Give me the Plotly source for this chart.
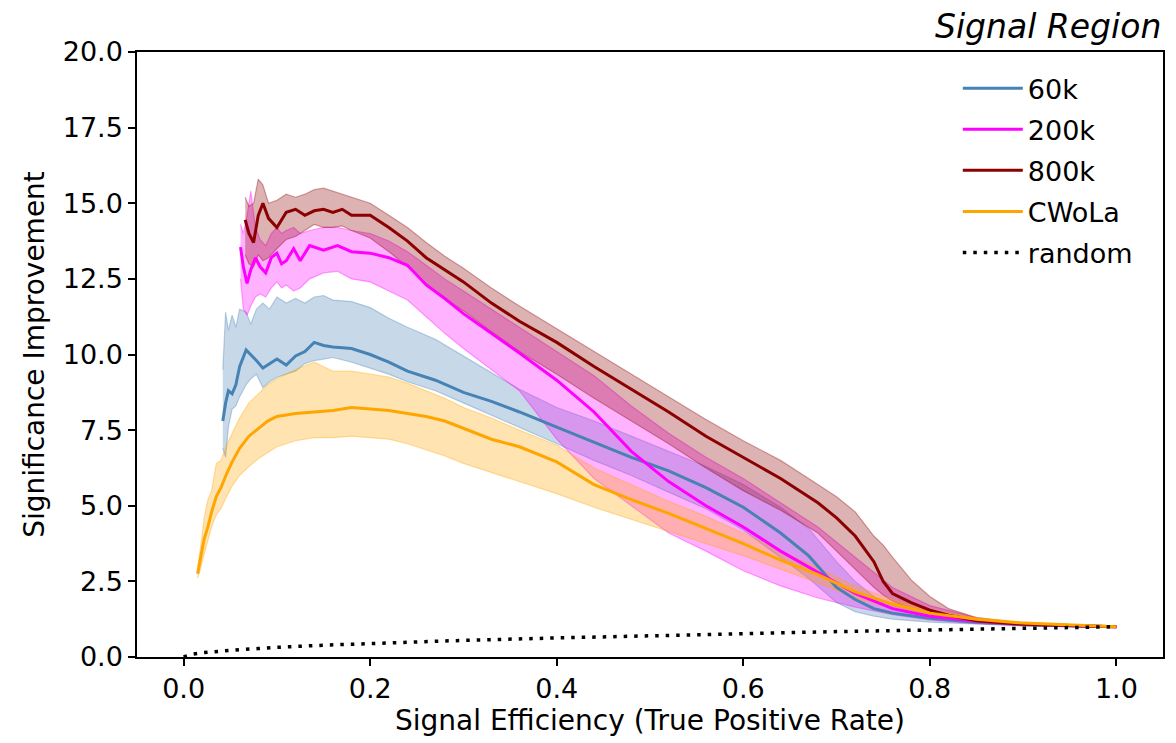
import plotly.graph_objects as go

# ---------------- data ----------------
S60_x = [0.042, 0.045, 0.048, 0.052, 0.056, 0.060, 0.067, 0.072, 0.078, 0.085, 0.092, 0.10, 0.11, 0.12, 0.13, 0.14, 0.15, 0.16, 0.18, 0.20, 0.22, 0.24, 0.27, 0.30, 0.33, 0.36, 0.40, 0.44, 0.48, 0.52, 0.56, 0.60, 0.64, 0.67, 0.70, 0.72, 0.74, 0.76, 0.80, 0.85, 0.90, 0.95, 1.0]
S60_y = [7.8, 8.4, 8.8, 8.7, 9.0, 9.6, 10.15, 10.0, 9.8, 9.55, 9.7, 9.85, 9.65, 9.95, 10.1, 10.4, 10.3, 10.25, 10.2, 10.0, 9.75, 9.45, 9.15, 8.75, 8.45, 8.1, 7.6, 7.1, 6.6, 6.15, 5.6, 4.95, 4.1, 3.35, 2.3, 1.9, 1.6, 1.45, 1.28, 1.15, 1.07, 1.03, 1.0]
S60_hi = [9.5, 11.4, 10.8, 11.3, 10.9, 11.5, 11.4, 11.0, 11.5, 11.7, 11.5, 11.9, 11.7, 11.85, 11.7, 11.9, 11.95, 11.8, 11.75, 11.55, 11.2, 10.9, 10.5, 9.95, 9.4, 8.85, 8.25, 7.8, 7.3, 6.8, 6.3, 5.7, 4.95, 4.25, 3.15, 2.5, 2.0, 1.7, 1.4, 1.2, 1.1, 1.04, 1.02]
S60_lo = [6.9, 6.6, 7.6, 8.2, 8.3, 8.6, 9.0, 9.2, 9.35, 8.9, 9.1, 9.25, 9.35, 9.45, 9.7, 9.8, 9.85, 9.9, 9.75, 9.55, 9.35, 9.1, 8.8, 8.4, 8.0, 7.6, 7.05, 6.5, 6.0, 5.45, 4.9, 4.2, 3.3, 2.6, 1.8, 1.5, 1.35, 1.25, 1.15, 1.08, 1.03, 1.0, 0.98]

S200_x = [0.061, 0.064, 0.068, 0.072, 0.077, 0.082, 0.088, 0.094, 0.10, 0.105, 0.11, 0.118, 0.125, 0.135, 0.15, 0.165, 0.18, 0.20, 0.22, 0.24, 0.26, 0.28, 0.30, 0.33, 0.36, 0.40, 0.44, 0.48, 0.52, 0.56, 0.60, 0.64, 0.68, 0.72, 0.76, 0.80, 0.85, 0.90, 0.95, 1.0]
S200_y = [13.55, 12.9, 12.35, 12.8, 13.2, 12.9, 12.7, 13.2, 13.35, 13.0, 13.1, 13.5, 13.1, 13.6, 13.45, 13.6, 13.4, 13.35, 13.2, 12.95, 12.3, 11.85, 11.35, 10.7, 10.05, 9.15, 8.1, 6.8, 5.8, 5.0, 4.3, 3.5, 2.8, 2.1, 1.6, 1.35, 1.18, 1.08, 1.03, 1.0]
S200_hi = [14.3, 14.0, 14.6, 15.4, 14.2, 13.8, 13.6, 14.0, 14.2, 14.0, 14.1, 14.2, 14.0, 14.1, 14.2, 14.2, 14.1, 14.0, 13.75, 13.4, 12.95, 12.5, 12.1, 11.5, 10.9, 10.1, 9.3, 8.3, 7.4, 6.6, 5.9, 5.1, 4.3, 3.3, 2.3, 1.7, 1.3, 1.12, 1.05, 1.02]
S200_lo = [12.5, 11.5, 11.3, 11.6, 11.9, 12.0, 11.9, 12.2, 12.4, 12.2, 12.3, 12.1, 12.2, 12.5, 12.7, 12.75, 12.5, 12.4, 12.1, 11.8, 11.25, 10.7, 10.2, 9.5, 8.8, 7.2, 5.9, 5.0, 4.1, 3.5, 2.85, 2.35, 1.95, 1.65, 1.4, 1.22, 1.1, 1.04, 1.01, 0.98]

S800_x = [0.066, 0.070, 0.075, 0.080, 0.085, 0.091, 0.10, 0.11, 0.12, 0.13, 0.14, 0.15, 0.16, 0.17, 0.18, 0.20, 0.22, 0.24, 0.26, 0.28, 0.30, 0.33, 0.36, 0.40, 0.44, 0.48, 0.52, 0.56, 0.60, 0.64, 0.68, 0.70, 0.72, 0.74, 0.75, 0.76, 0.78, 0.80, 0.82, 0.85, 0.90, 0.95, 1.0]
S800_y = [14.45, 14.0, 13.7, 14.6, 15.0, 14.5, 14.2, 14.7, 14.8, 14.6, 14.75, 14.8, 14.7, 14.8, 14.6, 14.6, 14.2, 13.75, 13.2, 12.8, 12.4, 11.7, 11.1, 10.4, 9.6, 8.85, 8.1, 7.3, 6.6, 5.9, 5.1, 4.6, 4.0, 3.15, 2.5, 2.1, 1.8, 1.55, 1.38, 1.2, 1.08, 1.03, 1.0]
S800_hi = [15.2, 14.9, 15.0, 15.8, 15.6, 15.0, 15.1, 15.3, 15.2, 15.3, 15.45, 15.5, 15.4, 15.3, 15.2, 15.0, 14.6, 14.2, 13.7, 13.25, 12.85, 12.2, 11.6, 10.85, 10.1, 9.35, 8.6, 7.85, 7.15, 6.5, 5.7, 5.3, 4.8, 4.0, 3.7, 3.3, 2.55, 2.0, 1.6, 1.3, 1.12, 1.05, 1.02]
S800_lo = [13.3, 13.0, 12.9, 13.3, 13.1, 13.2, 13.5, 13.8, 13.9, 14.1, 14.3, 14.2, 14.2, 14.25, 14.1, 13.85, 13.4, 12.9, 12.35, 11.85, 11.45, 10.75, 10.1, 9.35, 8.55, 7.8, 7.05, 6.25, 5.5, 4.85, 4.1, 3.5, 2.9, 2.3, 2.05, 1.85, 1.6, 1.42, 1.3, 1.15, 1.05, 1.02, 0.98]

CW_x = [0.015, 0.018, 0.022, 0.026, 0.030, 0.035, 0.040, 0.046, 0.052, 0.060, 0.070, 0.080, 0.090, 0.10, 0.12, 0.14, 0.16, 0.18, 0.20, 0.22, 0.24, 0.26, 0.28, 0.30, 0.33, 0.36, 0.40, 0.44, 0.48, 0.52, 0.56, 0.60, 0.64, 0.68, 0.72, 0.76, 0.80, 0.85, 0.90, 0.95, 1.0]
CW_y = [2.75, 3.2, 3.9, 4.3, 4.8, 5.3, 5.6, 6.05, 6.45, 6.9, 7.3, 7.55, 7.8, 7.95, 8.05, 8.1, 8.15, 8.25, 8.2, 8.15, 8.05, 7.95, 7.8, 7.55, 7.2, 6.95, 6.45, 5.7, 5.2, 4.75, 4.25, 3.75, 3.2, 2.72, 2.15, 1.75, 1.45, 1.25, 1.12, 1.06, 1.0]
CW_hi = [3.0, 3.6, 4.6, 5.2, 5.5, 6.4, 6.5, 7.0, 7.4, 7.9, 8.4, 8.7, 9.0, 9.2, 9.5, 9.75, 9.45, 9.45, 9.35, 9.25, 9.05, 8.8, 8.55, 8.25, 7.9, 7.5, 7.0, 6.25, 5.7, 5.15, 4.65, 4.1, 3.5, 2.95, 2.35, 1.9, 1.55, 1.3, 1.15, 1.07, 1.02]
CW_lo = [2.6, 2.9, 3.4, 3.9, 4.3, 4.7, 4.9, 5.3, 5.65, 6.0, 6.3, 6.55, 6.75, 6.95, 7.15, 7.25, 7.25, 7.3, 7.25, 7.2, 7.05, 6.85, 6.65, 6.4, 6.1, 5.8, 5.4, 4.95, 4.55, 4.15, 3.75, 3.35, 2.9, 2.45, 1.95, 1.6, 1.35, 1.18, 1.08, 1.03, 0.98]

RAND_x = [0.0, 0.01, 0.02, 0.04, 0.06, 0.08, 0.1, 0.15, 0.2, 0.3, 0.4, 0.5, 0.6, 0.7, 0.8, 0.9, 1.0]
RAND_y = [0.0, 0.1, 0.14, 0.2, 0.245, 0.28, 0.32, 0.39, 0.45, 0.55, 0.63, 0.71, 0.77, 0.84, 0.89, 0.95, 1.0]

SERIES = [
    ("60k", S60_x, S60_y, S60_lo, S60_hi, (70, 130, 180)),
    ("200k", S200_x, S200_y, S200_lo, S200_hi, (255, 0, 255)),
    ("800k", S800_x, S800_y, S800_lo, S800_hi, (139, 0, 0)),
    ("CWoLa", CW_x, CW_y, CW_lo, CW_hi, (255, 165, 0)),
]

X_TICKS = [0.0, 0.2, 0.4, 0.6, 0.8, 1.0]
Y_TICKS = [0.0, 2.5, 5.0, 7.5, 10.0, 12.5, 15.0, 17.5, 20.0]

FONT = "DejaVu Sans"
TICK_FS = 27
LABEL_FS = 28
LEGEND_FS = 27
TITLE_FS = 33

fig = go.Figure()

# uncertainty bands
for name, xs, ys, lo, hi, c in SERIES:
    rgb = "%d,%d,%d" % c
    fig.add_trace(go.Scatter(x=xs, y=lo, mode="lines", showlegend=False, hoverinfo="skip",
                             line=dict(color=f"rgba({rgb},0.35)", width=1.2)))
    fig.add_trace(go.Scatter(x=xs, y=hi, mode="lines", showlegend=False, hoverinfo="skip",
                             fill="tonexty", fillcolor=f"rgba({rgb},0.30)",
                             line=dict(color=f"rgba({rgb},0.35)", width=1.2)))

# central lines
for name, xs, ys, lo, hi, c in SERIES:
    fig.add_trace(go.Scatter(x=xs, y=ys, mode="lines", name=name, legendgroup=name,
                             line=dict(color="rgb(%d,%d,%d)" % c, width=3)))

fig.add_trace(go.Scatter(x=RAND_x, y=RAND_y, mode="lines", name="random", legendgroup="random",
                         line=dict(color="black", width=3.5, dash="3.5px,7px")))

axis_common = dict(showline=True, mirror=True, linecolor="black", linewidth=1.5,
                   ticks="outside", ticklen=7, tickwidth=1.5, tickcolor="black",
                   showgrid=False, zeroline=False,
                   tickfont=dict(family=FONT, size=TICK_FS, color="black"))

fig.update_layout(
    width=1176, height=743,
    margin=dict(l=137, r=13, t=52, b=86),
    paper_bgcolor="white", plot_bgcolor="white",
    font=dict(family=FONT, size=TICK_FS, color="black"),
    xaxis=dict(range=[-0.05, 1.05], tickvals=X_TICKS,
               ticktext=["%.1f" % v for v in X_TICKS],
               title=dict(text="Signal Efficiency (True Positive Rate)",
                          font=dict(family=FONT, size=LABEL_FS), standoff=6),
               **axis_common),
    yaxis=dict(range=[0, 20], tickvals=Y_TICKS,
               ticktext=["%.1f" % v for v in Y_TICKS],
               title=dict(text="Significance Improvement",
                          font=dict(family=FONT, size=LABEL_FS), standoff=10),
               **axis_common),
    legend=dict(x=0.80, y=0.98, xanchor="left", yanchor="top",
                bgcolor="rgba(0,0,0,0)", borderwidth=0,
                font=dict(family=FONT, size=LEGEND_FS, color="black"),
                tracegroupgap=3, itemwidth=60),
    annotations=[dict(text="<i>Signal Region</i>", xref="paper", yref="paper",
                      x=1.0, y=1.0, xanchor="right", yanchor="bottom", yshift=4,
                      showarrow=False, font=dict(family=FONT, size=TITLE_FS, color="black"))],
)

fig.write_html("out.html",
               config={"displayModeBar": False},
               post_script="document.body.style.margin='0';document.body.style.padding='0';")
